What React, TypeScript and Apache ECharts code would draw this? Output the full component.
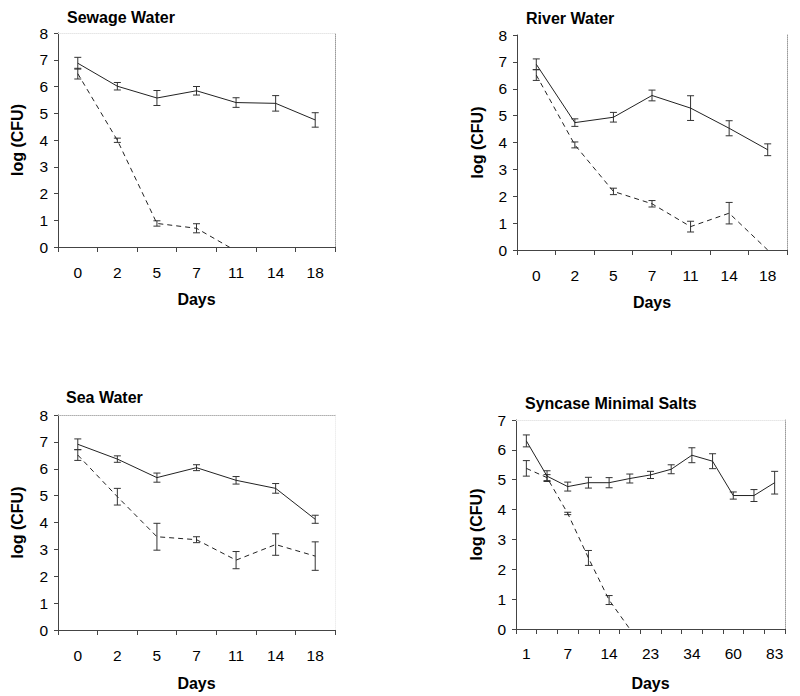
import React, { useEffect, useRef } from 'react';
import * as echarts from 'echarts';

// ---- Data ----
const waterDays = ['0', '2', '5', '7', '11', '14', '18'];
const syncaseDays = ['1', '4', '7', '10', '14', '18', '23', '28', '34', '41', '60', '70', '83'];

const sewageSolid = [6.87, 6.01, 5.57, 5.84, 5.4, 5.37, 4.75];
const sewageSolidErr = [0.22, 0.14, 0.28, 0.16, 0.18, 0.29, 0.27];
const sewageDashed = [6.48, 3.99, 0.88, 0.7, -0.15, null, null];
const sewageDashedErr = [0.2, 0.08, 0.1, 0.17, null, null, null];

const riverSolid = [6.91, 4.74, 4.94, 5.75, 5.28, 4.53, 3.73];
const riverSolidErr = [0.2, 0.14, 0.18, 0.2, 0.46, 0.28, 0.22];
const riverDashed = [6.51, 3.91, 2.18, 1.72, 0.87, 1.37, 0];
const riverDashedErr = [0.2, 0.11, 0.12, 0.12, 0.2, 0.4, null];

const seaSolid = [6.91, 6.36, 5.67, 6.04, 5.57, 5.27, 4.12];
const seaSolidErr = [0.2, 0.12, 0.17, 0.11, 0.14, 0.18, 0.15];
const seaDashed = [6.51, 4.96, 3.47, 3.36, 2.6, 3.18, 2.75];
const seaDashedErr = [0.2, 0.31, 0.5, 0.11, 0.32, 0.4, 0.53];

const syncaseSolid = [6.3, 5.12, 4.77, 4.9, 4.9, 5.04, 5.16, 5.35, 5.82, 5.62, 4.47, 4.47, 4.9];
const syncaseSolidErr = [0.2, 0.18, 0.15, 0.18, 0.17, 0.15, 0.12, 0.15, 0.25, 0.25, 0.12, 0.2, 0.38];
const syncaseDashed = [5.38, 5.07, 3.87, 2.38, 0.97, 0, null, null, null, null, null, null, null];
const syncaseDashedErr = [0.26, 0.1, 0.04, 0.25, 0.15, null, null, null, null, null, null, null, null];

// ---- Layout / style ----
const FONT = '"Liberation Sans", Arial, Helvetica, sans-serif';
const INK = '#222';
const TICK_FONT = 15.5;

const panels = [
  {
    title: 'Sewage Water', days: waterDays, max: 8,
    solid: sewageSolid, solidErr: sewageSolidErr, dashed: sewageDashed, dashedErr: sewageDashedErr,
    grid: { left: 58, top: 33, width: 277, height: 214 }, titlePos: { left: 67, top: 9 },
    rightColor: '#9a9a9a', topColor: '#e6e6e6', labelInterval: 0, labelMargin: 17, nameGap: 33, xNameGap: 44,
  },
  {
    title: 'River Water', days: waterDays, max: 8,
    solid: riverSolid, solidErr: riverSolidErr, dashed: riverDashed, dashedErr: riverDashedErr,
    grid: { left: 517, top: 35, width: 270, height: 215 }, titlePos: { left: 526, top: 10 },
    rightColor: '#9a9a9a', topColor: 'rgba(0,0,0,0)', labelInterval: 0, labelMargin: 17, nameGap: 32, xNameGap: 44,
  },
  {
    title: 'Sea Water', days: waterDays, max: 8,
    solid: seaSolid, solidErr: seaSolidErr, dashed: seaDashed, dashedErr: seaDashedErr,
    grid: { left: 58, top: 415, width: 277, height: 215 }, titlePos: { left: 66, top: 389 },
    rightColor: '#eeeeee', topColor: '#b0b0b0', labelInterval: 0, labelMargin: 17, nameGap: 33, xNameGap: 45,
  },
  {
    title: 'Syncase Minimal Salts', days: syncaseDays, max: 7,
    solid: syncaseSolid, solidErr: syncaseSolidErr, dashed: syncaseDashed, dashedErr: syncaseDashedErr,
    grid: { left: 516, top: 420, width: 269, height: 209 }, titlePos: { left: 525, top: 395 },
    rightColor: '#9a9a9a', topColor: '#e6e6e6', labelInterval: 1, labelMargin: 16, nameGap: 32, xNameGap: 46,
  },
];

const errRender = (params: any, api: any) => {
  const x = api.value(0);
  const lo = api.value(1);
  const hi = api.value(2);
  const a = api.coord([x, hi]);
  const b = api.coord([x, lo]);
  const w = 3.5;
  const style = { stroke: '#333', lineWidth: 1, fill: 'none' };
  return {
    type: 'group',
    children: [
      { type: 'line', shape: { x1: a[0], y1: a[1], x2: b[0], y2: b[1] }, style },
      { type: 'line', shape: { x1: a[0] - w, y1: a[1], x2: a[0] + w, y2: a[1] }, style },
      { type: 'line', shape: { x1: b[0] - w, y1: b[1], x2: b[0] + w, y2: b[1] }, style },
    ],
  };
};

const errData = (vals: (number | null)[], errs: (number | null)[]) =>
  vals
    .map((v, i) => (v == null || errs[i] == null ? null : [i, v - (errs[i] as number), v + (errs[i] as number)]))
    .filter((d) => d !== null);

function buildOption() {
  const title: any[] = [];
  const grid: any[] = [];
  const xAxis: any[] = [];
  const yAxis: any[] = [];
  const series: any[] = [];

  panels.forEach((p, i) => {
    title.push({
      text: p.title,
      left: p.titlePos.left,
      top: p.titlePos.top,
      padding: 0,
      textStyle: { fontFamily: FONT, fontSize: 16, fontWeight: 'bold', color: '#000' },
    });
    grid.push({ ...p.grid, containLabel: false });
    xAxis[i] = {
      type: 'category',
      gridIndex: i,
      position: 'bottom',
      data: p.days,
      boundaryGap: true,
      name: 'Days',
      nameLocation: 'middle',
      nameGap: p.xNameGap,
      nameTextStyle: { fontFamily: FONT, fontSize: 16, fontWeight: 'bold', color: '#000' },
      axisLine: { show: true, onZero: false, lineStyle: { color: '#444', width: 1 } },
      axisTick: { show: true, interval: 0, length: 5, lineStyle: { color: '#444' } },
      axisLabel: { interval: p.labelInterval, margin: p.labelMargin, fontFamily: FONT, fontSize: TICK_FONT, color: '#000' },
      splitLine: { show: false },
    };
    xAxis[4 + i] = {
      type: 'category',
      gridIndex: i,
      position: 'top',
      data: p.days,
      axisLine: { show: true, onZero: false, lineStyle: { color: p.topColor, type: 'dotted', width: 1 } },
      axisTick: { show: false },
      axisLabel: { show: false },
      splitLine: { show: false },
    };
    yAxis[i] = {
      type: 'value',
      gridIndex: i,
      position: 'left',
      min: 0,
      max: p.max,
      interval: 1,
      name: 'log (CFU)',
      nameLocation: 'middle',
      nameGap: p.nameGap,
      nameRotate: 90,
      nameTextStyle: { fontFamily: FONT, fontSize: 16, fontWeight: 'bold', color: '#000' },
      axisLine: { show: true, onZero: false, lineStyle: { color: '#444', width: 1 } },
      axisTick: { show: true, length: 4, lineStyle: { color: '#444' } },
      axisLabel: { margin: 10, fontFamily: FONT, fontSize: TICK_FONT, color: '#000' },
      splitLine: { show: false },
    };
    yAxis[4 + i] = {
      type: 'value',
      gridIndex: i,
      position: 'right',
      min: 0,
      max: p.max,
      interval: 1,
      axisLine: { show: true, onZero: false, lineStyle: { color: p.rightColor, type: 'dotted', width: 1 } },
      axisTick: { show: false },
      axisLabel: { show: false },
      splitLine: { show: false },
    };

    series.push({
      type: 'line',
      name: p.title + ' solid',
      xAxisIndex: i,
      yAxisIndex: i,
      data: p.solid,
      symbol: 'none',
      lineStyle: { color: INK, width: 1 },
      connectNulls: false,
    });
    series.push({
      type: 'line',
      name: p.title + ' dashed',
      xAxisIndex: i,
      yAxisIndex: i,
      data: p.dashed,
      symbol: 'none',
      lineStyle: { color: INK, width: 1, type: [5, 4] },
      connectNulls: false,
    });
    series.push({
      type: 'custom',
      xAxisIndex: i,
      yAxisIndex: i,
      renderItem: errRender,
      encode: { x: 0, y: [1, 2] },
      data: errData(p.solid, p.solidErr),
      z: 3,
    });
    series.push({
      type: 'custom',
      xAxisIndex: i,
      yAxisIndex: i,
      renderItem: errRender,
      encode: { x: 0, y: [1, 2] },
      data: errData(p.dashed, p.dashedErr),
      z: 3,
    });
  });

  return {
    animation: false,
    backgroundColor: '#fff',
    title,
    grid,
    xAxis,
    yAxis,
    series,
  };
}

export default function App() {
  const ref = useRef<HTMLDivElement>(null);
  useEffect(() => {
    document.body.style.margin = '0';
    if (!ref.current) return;
    const chart = echarts.init(ref.current, null, { renderer: 'svg' });
    chart.setOption(buildOption() as any);
    return () => chart.dispose();
  }, []);
  return <div ref={ref} style={{ position: 'absolute', left: 0, top: 0, width: 800, height: 696 }} />;
}
